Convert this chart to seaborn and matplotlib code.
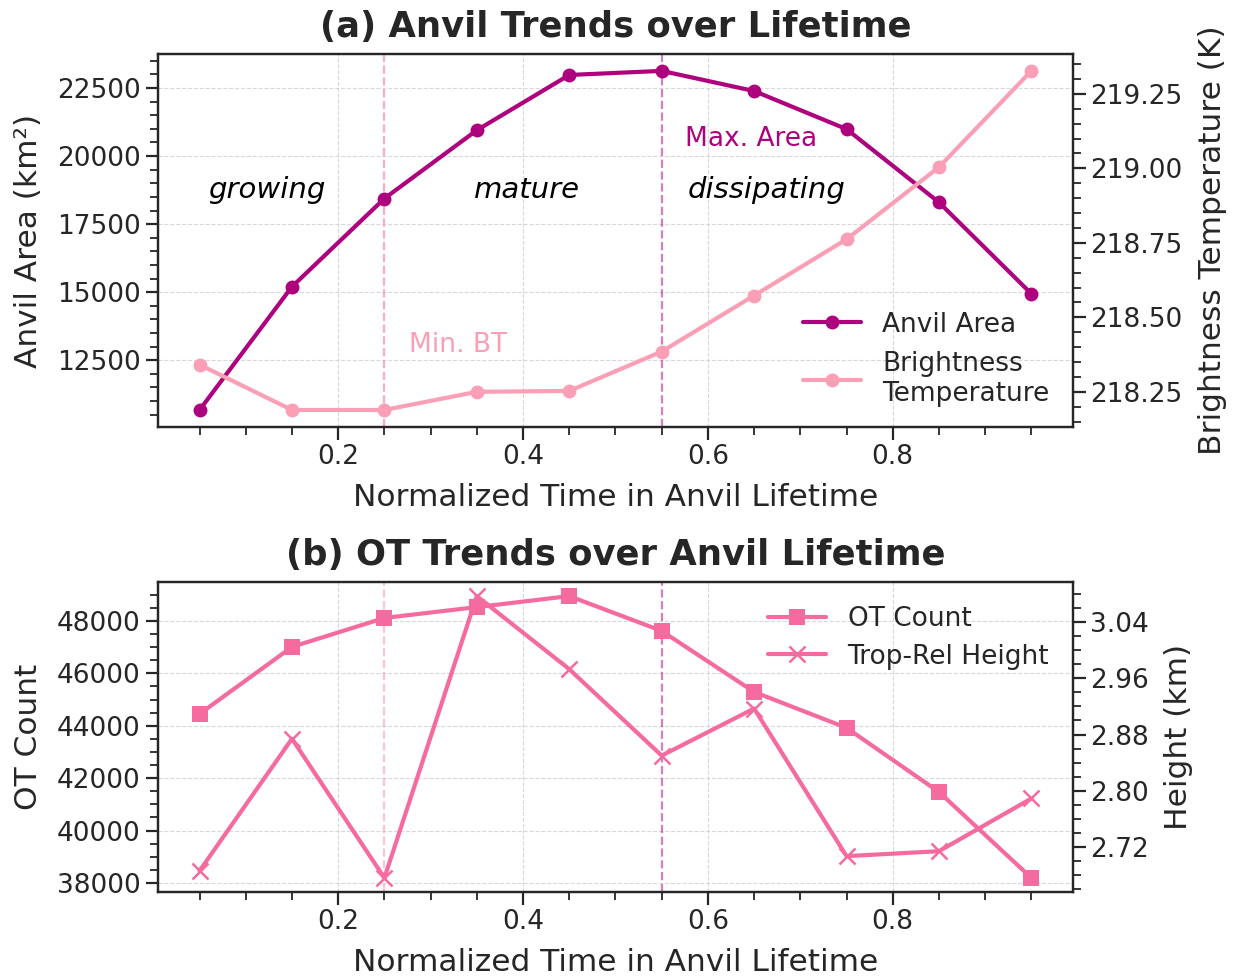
import matplotlib
matplotlib.use("Agg")
import matplotlib.pyplot as plt
from matplotlib.ticker import MultipleLocator, FormatStrFormatter
import seaborn as sns

# Normalized lifetime bins (centres)
time_bins = [0.05, 0.15, 0.25, 0.35, 0.45, 0.55, 0.65, 0.75, 0.85, 0.95]

# (a) anvil properties
anvil_area = [10670, 15200, 18440, 20950, 22980, 23130, 22390, 20990, 18300, 14940]
brightness_temp = [218.341, 218.189, 218.189, 218.250, 218.253, 218.385,
                   218.573, 218.762, 219.004, 219.327]

# (b) overshooting-top properties
ot_count = [44450, 47010, 48115, 48530, 48950, 47620, 45290, 43920, 41470, 38190]
trop_rel_height = [2.686, 2.874, 2.676, 3.077, 2.973, 2.850, 2.917, 2.707, 2.714, 2.789]

phase_names = ["growing", "mature", "dissipating"]
phase_x = [0.123, 0.404, 0.664]
min_bt_time = 0.25
max_area_time = 0.55

c_area = "#ae017e"
c_bt = "#fa9fb5"
c_ot = "#f56b9f"

sns.set_theme(style="ticks")
plt.rcParams.update({
    "font.family": ["DejaVu Sans"],
    "axes.edgecolor": "#262626",
    "axes.linewidth": 1.6,
    "xtick.color": "#262626",
    "ytick.color": "#262626",
    "xtick.labelcolor": "#262626",
    "ytick.labelcolor": "#262626",
    "text.color": "#262626",
    "axes.labelcolor": "#262626",
})

TICK_FS = 19
LEGEND_FS = 19
LABEL_FS = 22.5
TITLE_FS = 25.5


def style_ticks(ax):
    ax.tick_params(axis="both", which="major", length=9, width=1.6,
                   labelsize=TICK_FS, direction="out")
    ax.tick_params(axis="both", which="minor", length=6, width=1.3,
                   direction="out")


fig = plt.figure(figsize=(12.36, 9.77), dpi=100)
ax1 = fig.add_axes([0.1278, 0.563, 0.7403, 0.3818])
ax3 = fig.add_axes([0.1278, 0.087, 0.7403, 0.3173])

# ---------------- (a) Anvil trends ----------------
ax1.grid(True, which="major", ls="--", lw=0.8, color="#cfcfcf", alpha=0.8)
ax1.axvline(min_bt_time, color=c_bt, ls="--", lw=1.6, alpha=0.85, zorder=1)
ax1.axvline(max_area_time, color=c_area, ls="--", lw=1.6, alpha=0.5, zorder=1)

sns.lineplot(x=time_bins, y=anvil_area, ax=ax1, color=c_area, lw=3,
             marker="o", markersize=10, markeredgewidth=0,
             markeredgecolor=c_area, label="Anvil Area", legend=False)
ax1.set_ylabel("Anvil Area (km²)", fontsize=LABEL_FS, labelpad=10)
ax1.set_xlabel("Normalized Time in Anvil Lifetime", fontsize=LABEL_FS,
               labelpad=9)
ax1.set_title("(a) Anvil Trends over Lifetime", fontsize=TITLE_FS,
              fontweight="bold", pad=12)

ax2 = ax1.twinx()
sns.lineplot(x=time_bins, y=brightness_temp, ax=ax2, color=c_bt, lw=3,
             marker="o", markersize=10, markeredgewidth=0,
             markeredgecolor=c_bt, label="Brightness\nTemperature",
             legend=False)
ax2.set_ylabel("Brightness Temperature (K)", fontsize=LABEL_FS, labelpad=11)

ax1.xaxis.set_major_locator(MultipleLocator(0.2))
ax1.xaxis.set_minor_locator(MultipleLocator(0.05))
ax1.yaxis.set_major_locator(MultipleLocator(2500))
ax1.yaxis.set_minor_locator(MultipleLocator(500))
ax2.yaxis.set_major_locator(MultipleLocator(0.25))
ax2.yaxis.set_minor_locator(MultipleLocator(0.05))
ax2.yaxis.set_major_formatter(FormatStrFormatter("%.2f"))
for a in (ax1, ax2):
    style_ticks(a)
ax2.grid(False)

for name, xpos in zip(phase_names, phase_x):
    ax1.text(xpos, 0.635, name, transform=ax1.get_xaxis_transform(),
             ha="center", va="center", fontsize=21, style="italic",
             color="black")
ax1.text(max_area_time + 0.025, 0.772, "Max. Area",
         transform=ax1.get_xaxis_transform(), ha="left", va="center",
         fontsize=19, color=c_area)
ax1.text(min_bt_time + 0.027, 0.22, "Min. BT",
         transform=ax1.get_xaxis_transform(), ha="left", va="center",
         fontsize=19, color=c_bt)

h1, l1 = ax1.get_legend_handles_labels()
h2, l2 = ax2.get_legend_handles_labels()
ax2.legend(h1 + h2, l1 + l2, loc="lower right", bbox_to_anchor=(1.0, -0.01),
           frameon=False, fontsize=LEGEND_FS, handlelength=2.2,
           labelspacing=0.5)

# ---------------- (b) OT trends ----------------
ax3.grid(True, which="major", ls="--", lw=0.8, color="#cfcfcf", alpha=0.8)
ax3.axvline(min_bt_time, color=c_bt, ls="--", lw=1.6, alpha=0.6, zorder=1)
ax3.axvline(max_area_time, color=c_area, ls="--", lw=1.6, alpha=0.5, zorder=1)

sns.lineplot(x=time_bins, y=ot_count, ax=ax3, color=c_ot, lw=3,
             marker="s", markersize=11, markeredgewidth=0,
             markeredgecolor=c_ot, label="OT Count", legend=False)
ax3.set_ylabel("OT Count", fontsize=LABEL_FS, labelpad=10)
ax3.set_xlabel("Normalized Time in Anvil Lifetime", fontsize=LABEL_FS,
               labelpad=9)
ax3.set_title("(b) OT Trends over Anvil Lifetime", fontsize=TITLE_FS,
              fontweight="bold", pad=12)

ax4 = ax3.twinx()
sns.lineplot(x=time_bins, y=trop_rel_height, ax=ax4, color=c_ot, lw=3,
             marker="x", markersize=12, markeredgewidth=1.8,
             markeredgecolor=c_ot, label="Trop-Rel Height", legend=False)
ax4.set_ylabel("Height (km)", fontsize=LABEL_FS, labelpad=11)

ax3.xaxis.set_major_locator(MultipleLocator(0.2))
ax3.xaxis.set_minor_locator(MultipleLocator(0.05))
ax3.yaxis.set_major_locator(MultipleLocator(2000))
ax3.yaxis.set_minor_locator(MultipleLocator(500))
ax4.yaxis.set_major_locator(MultipleLocator(0.08))
ax4.yaxis.set_minor_locator(MultipleLocator(0.02))
ax4.yaxis.set_major_formatter(FormatStrFormatter("%.2f"))
for a in (ax3, ax4):
    style_ticks(a)
ax4.grid(False)

h3, l3 = ax3.get_legend_handles_labels()
h4, l4 = ax4.get_legend_handles_labels()
ax4.legend(h3 + h4, l3 + l4, loc="upper right", bbox_to_anchor=(1.0, 1.0),
           frameon=False, fontsize=LEGEND_FS, handlelength=2.2,
           labelspacing=0.45)

fig.savefig("out.png", dpi=100)
